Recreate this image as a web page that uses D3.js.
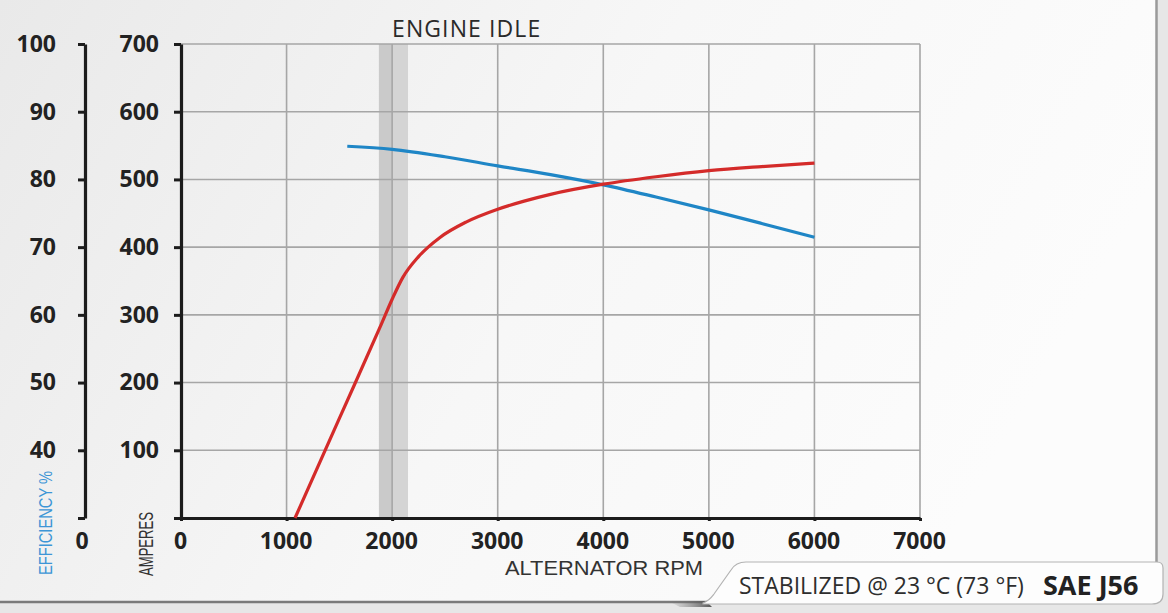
<!DOCTYPE html>
<html>
<head>
<meta charset="utf-8">
<script src="https://cdn.jsdelivr.net/npm/d3@7"></script>
<style>
  html, body { margin: 0; padding: 0; background: #e6e6e6; }
  svg { display: block; }
</style>
</head>
<body>
<svg id="chart" width="1168" height="613"></svg>
<script>
// Data
var rpmTicks = [0, 1000, 2000, 3000, 4000, 5000, 6000, 7000];
var ampTicks = [0, 100, 200, 300, 400, 500, 600, 700];
var effTicks = [30, 40, 50, 60, 70, 80, 90, 100];
var idleBand = [1875, 2150];

// amperes curve (red)
var ampRpm = [1080, 1500, 1900, 2000, 2100, 2250, 2450, 2700, 3000, 3250, 3500, 4000, 4500, 5000, 5500, 6000];
var ampVal = [0, 147, 287, 323, 355, 386, 414, 437, 456, 468, 478, 493, 504, 513, 519, 524];

// efficiency curve (blue)
var effRpm = [1575, 2000, 2500, 3000, 3500, 4000, 4500, 5000, 5500, 6000];
var effVal = [84.9, 84.45, 83.35, 82.0, 80.7, 79.2, 77.4, 75.5, 73.5, 71.45];

var svg = d3.select("#chart");

var x = d3.scaleLinear().domain([0, 7000]).range([181, 920]),
    yAmp = d3.scaleLinear().domain([0, 700]).range([518, 44]),
    yEff = d3.scaleLinear().domain([30, 100]).range([518, 44]);

var labelFont = "'Open Sans', 'DejaVu Sans', sans-serif";

// background panel
var defs = svg.append("defs");
var bg = defs.append("linearGradient").attr("id", "bg")
    .attr("x1", "0").attr("y1", "0").attr("x2", "1").attr("y2", "0.3");
bg.append("stop").attr("offset", "0").attr("stop-color", "#e9e9e9");
bg.append("stop").attr("offset", "0.55").attr("stop-color", "#f7f7f7");
bg.append("stop").attr("offset", "1").attr("stop-color", "#fcfcfc");

var shadow = defs.append("linearGradient").attr("id", "shadow")
    .attr("x1", "0").attr("y1", "0").attr("x2", "1").attr("y2", "0");
shadow.append("stop").attr("offset", "0").attr("stop-color", "#777").attr("stop-opacity", 0);
shadow.append("stop").attr("offset", "1").attr("stop-color", "#555");

svg.append("rect").attr("width", 1168).attr("height", 613).attr("fill", "#e7e7e7");
svg.append("rect").attr("x", 0).attr("y", 0).attr("width", 1156).attr("height", 602)
    .attr("fill", "url(#bg)");
svg.append("line").attr("x1", 1156.5).attr("x2", 1156.5).attr("y1", 0).attr("y2", 603)
    .attr("stroke", "#9a9a9a").attr("stroke-width", 2.5);
svg.append("line").attr("x1", 0).attr("x2", 1157).attr("y1", 602).attr("y2", 602)
    .attr("stroke", "#7a7a7a").attr("stroke-width", 2.5);

var g = svg.append("g");

// engine idle band
g.append("rect")
    .attr("x", x(idleBand[0])).attr("y", yAmp(700))
    .attr("width", x(idleBand[1]) - x(idleBand[0]))
    .attr("height", yAmp(0) - yAmp(700))
    .attr("fill", "#d4d4d4");
g.append("rect")
    .attr("x", x(idleBand[0])).attr("y", yAmp(700))
    .attr("width", x(2000) - x(idleBand[0]))
    .attr("height", yAmp(0) - yAmp(700))
    .attr("fill", "#cacaca");

// grid
g.selectAll(".vgrid").data(rpmTicks.slice(1)).enter().append("line")
    .attr("class", "vgrid")
    .attr("x1", function(d) { return x(d); }).attr("x2", function(d) { return x(d); })
    .attr("y1", yAmp(700)).attr("y2", yAmp(0))
    .attr("stroke", "#a6a6a6").attr("stroke-width", 1.6);
g.selectAll(".hgrid").data(ampTicks.slice(1)).enter().append("line")
    .attr("class", "hgrid")
    .attr("x1", x(0)).attr("x2", x(7000))
    .attr("y1", function(d) { return yAmp(d); }).attr("y2", function(d) { return yAmp(d); })
    .attr("stroke", "#a6a6a6").attr("stroke-width", 1.6);

// axes
function styleAxis(sel) {
    sel.select(".domain").attr("stroke", "#1c1c1c").attr("stroke-width", 3.2);
    sel.selectAll(".tick line").attr("stroke", "#1c1c1c").attr("stroke-width", 3);
    sel.selectAll(".tick text")
        .attr("fill", "#222")
        .style("font-family", labelFont)
        .style("font-weight", "700")
        .style("font-size", "23px");
}

var ampAxis = g.append("g").attr("transform", "translate(" + x(0) + ",0)")
    .call(d3.axisLeft(yAmp).tickValues(ampTicks).tickSize(7).tickSizeOuter(0)
        .tickPadding(15)
        .tickFormat(function(d) { return d === 0 ? "" : d; }));
styleAxis(ampAxis);

var effAxis = g.append("g").attr("transform", "translate(85,0)")
    .call(d3.axisLeft(yEff).tickValues(effTicks).tickSize(7).tickSizeOuter(0)
        .tickPadding(22)
        .tickFormat(function(d) { return d === 30 ? "" : d; }));
styleAxis(effAxis);

var rpmAxis = g.append("g").attr("transform", "translate(0," + yAmp(0) + ")")
    .call(d3.axisBottom(x).tickValues(rpmTicks).tickSize(3).tickSizeOuter(0)
        .tickPadding(12).tickFormat(d3.format("d")));
styleAxis(rpmAxis);
rpmAxis.selectAll(".tick text").attr("dx", "-1");

// lone "0" under the efficiency axis
g.append("text").attr("x", 82).attr("y", 549)
    .attr("text-anchor", "middle")
    .attr("fill", "#222")
    .style("font-family", labelFont).style("font-weight", "700").style("font-size", "23px")
    .text("0");

// curves
var ampLine = d3.line()
    .x(function(d, i) { return x(ampRpm[i]); })
    .y(function(d) { return yAmp(d); })
    .curve(d3.curveMonotoneX);
var effLine = d3.line()
    .x(function(d, i) { return x(effRpm[i]); })
    .y(function(d) { return yEff(d); })
    .curve(d3.curveMonotoneX);

g.append("path").attr("d", effLine(effVal))
    .attr("fill", "none").attr("stroke", "#1f86c6").attr("stroke-width", 3.2);
g.append("path").attr("d", ampLine(ampVal))
    .attr("fill", "none").attr("stroke", "#d42b2a").attr("stroke-width", 3.2);

// titles
g.append("text").attr("x", 392).attr("y", 37)
    .attr("fill", "#2a2a2a")
    .style("font-family", labelFont).style("font-size", "23px").style("letter-spacing", "1.1px")
    .text("ENGINE IDLE");

g.append("text").attr("x", 604).attr("y", 575)
    .attr("text-anchor", "middle")
    .attr("fill", "#333")
    .style("font-family", "'Liberation Sans', Arial, sans-serif").style("font-size", "20px")
    .attr("textLength", 198).attr("lengthAdjust", "spacingAndGlyphs")
    .text("ALTERNATOR RPM");

g.append("text")
    .attr("transform", "translate(52,575) rotate(-90)")
    .attr("fill", "#3d96d6")
    .style("font-family", "'Liberation Sans', Arial, sans-serif").style("font-size", "19px")
    .attr("textLength", 104).attr("lengthAdjust", "spacingAndGlyphs")
    .text("EFFICIENCY %");

g.append("text")
    .attr("transform", "translate(153,576) rotate(-90)")
    .attr("fill", "#333")
    .style("font-family", "'Liberation Sans', Arial, sans-serif").style("font-size", "20px")
    .attr("textLength", 64).attr("lengthAdjust", "spacingAndGlyphs")
    .text("AMPERES");

// badge bottom-right
svg.append("path")
    .attr("d", "M668,601 L706,601 L712,607 L680,607 Z")
    .attr("fill", "url(#shadow)");
svg.append("path")
    .attr("d", "M703,603 C709,601 711,598 714,594 L731,570 C734,565 738,562 746,562 " +
               "L1157,562 Q1163,562 1163,568 L1163,594 Q1163,604 1152,604 L703,604 Z")
    .attr("fill", "#fdfdfd").attr("stroke", "#b3b3b3").attr("stroke-width", 1.2);

svg.append("text").attr("x", 739).attr("y", 594)
    .attr("fill", "#2e2e2e")
    .style("font-family", labelFont).style("font-size", "23px")
    .text("STABILIZED @ 23 °C (73 °F)");
svg.append("text").attr("x", 1043).attr("y", 595)
    .attr("fill", "#222")
    .style("font-family", labelFont).style("font-weight", "700").style("font-size", "27px")
    .text("SAE J56");
</script>
</body>
</html>
